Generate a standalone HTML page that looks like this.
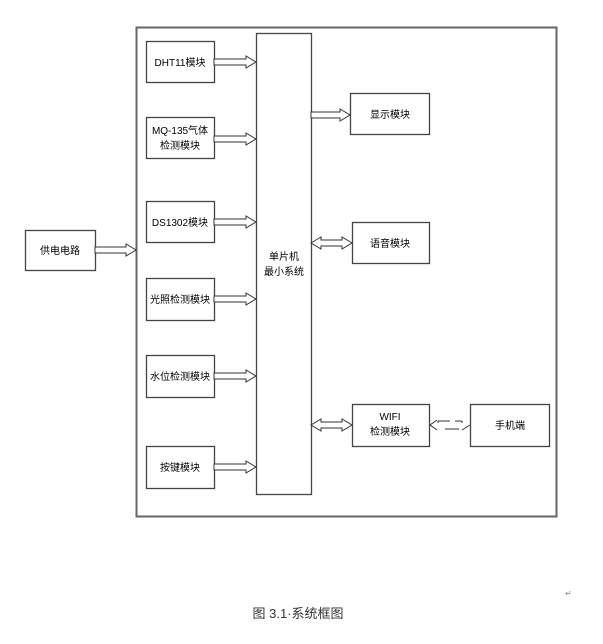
<!DOCTYPE html>
<html><head><meta charset="utf-8"><style>
body{margin:0;background:#fff}
svg text{font-family:"Liberation Sans","Noto Sans CJK SC",sans-serif;font-size:10px;fill:#000}
</style></head><body>
<svg width="603" height="639" viewBox="0 0 603 639" xmlns="http://www.w3.org/2000/svg">
<g fill="#fff" stroke="#444" stroke-width="1.3">
<rect x="136.5" y="27.5" width="420" height="489" stroke="#666" stroke-width="2"/>
<rect x="25.5" y="230.5" width="70" height="40"/>
<rect x="146.5" y="41.5" width="68" height="41"/>
<rect x="146.5" y="117.5" width="68" height="41"/>
<rect x="146.5" y="201.5" width="68" height="41"/>
<rect x="146.5" y="278.5" width="68" height="42"/>
<rect x="146.5" y="355.5" width="68" height="42"/>
<rect x="146.5" y="446.5" width="68" height="42"/>
<rect x="256.5" y="33.5" width="55" height="461"/>
<rect x="350.5" y="93.5" width="79" height="41"/>
<rect x="352.5" y="222.5" width="77" height="41"/>
<rect x="352.5" y="404.5" width="77" height="42"/>
<rect x="470.5" y="404.5" width="79" height="42"/>
</g>
<g fill="#fff" stroke="#333" stroke-width="1">
<polygon points="95,247 126,247 126,244 136,250 126,256 126,253 95,253"/>
<polygon points="214,59 246,59 246,56 256,62 246,68 246,65 214,65"/>
<polygon points="214,136 246,136 246,133 256,139 246,145 246,142 214,142"/>
<polygon points="214,219 246,219 246,216 256,222 246,228 246,225 214,225"/>
<polygon points="214,296 246,296 246,293 256,299 246,305 246,302 214,302"/>
<polygon points="214,373 246,373 246,370 256,376 246,382 246,379 214,379"/>
<polygon points="214,464 246,464 246,461 256,467 246,473 246,470 214,470"/>
<polygon points="311,112 340,112 340,109 350,115 340,121 340,118 311,118"/>
<polygon points="311,243 321,237 321,240 342,240 342,237 352,243 342,249 342,246 321,246 321,249"/>
<polygon points="311,425 321,419 321,422 342,422 342,419 352,425 342,431 342,428 321,428 321,431"/>
</g>
<g stroke="#333" stroke-width="1" fill="none">
<polyline points="437,420 430,425 437,430"/>
<line x1="438" y1="421" x2="450" y2="421"/><line x1="438" y1="421" x2="438" y2="423"/>
<line x1="445" y1="429" x2="459" y2="429"/>
<line x1="455" y1="421" x2="462" y2="421"/><line x1="462" y1="421" x2="462" y2="423"/>
<line x1="462" y1="430" x2="470" y2="425"/>
</g>
<text x="60" y="254" text-anchor="middle">供电电路</text>
<text x="180" y="66" text-anchor="middle">DHT11模块</text>
<text x="180" y="134" text-anchor="middle">MQ-135气体</text>
<text x="180" y="149" text-anchor="middle">检测模块</text>
<text x="180" y="226" text-anchor="middle">DS1302模块</text>
<text x="180" y="303" text-anchor="middle">光照检测模块</text>
<text x="180" y="380" text-anchor="middle">水位检测模块</text>
<text x="180" y="471" text-anchor="middle">按键模块</text>
<text x="284" y="260" text-anchor="middle">单片机</text>
<text x="284" y="275" text-anchor="middle">最小系统</text>
<text x="390" y="118" text-anchor="middle">显示模块</text>
<text x="390" y="247" text-anchor="middle">语音模块</text>
<text x="390" y="420" text-anchor="middle">WIFI</text>
<text x="390" y="435" text-anchor="middle">检测模块</text>
<text x="510" y="429" text-anchor="middle">手机端</text>
<text x="298" y="618" text-anchor="middle" style="font-size:13px;fill:#333">图 3.1·系统框图</text>
<text x="565" y="596" style="font-size:8px;fill:#888">↵</text>
</svg>
</body></html>
